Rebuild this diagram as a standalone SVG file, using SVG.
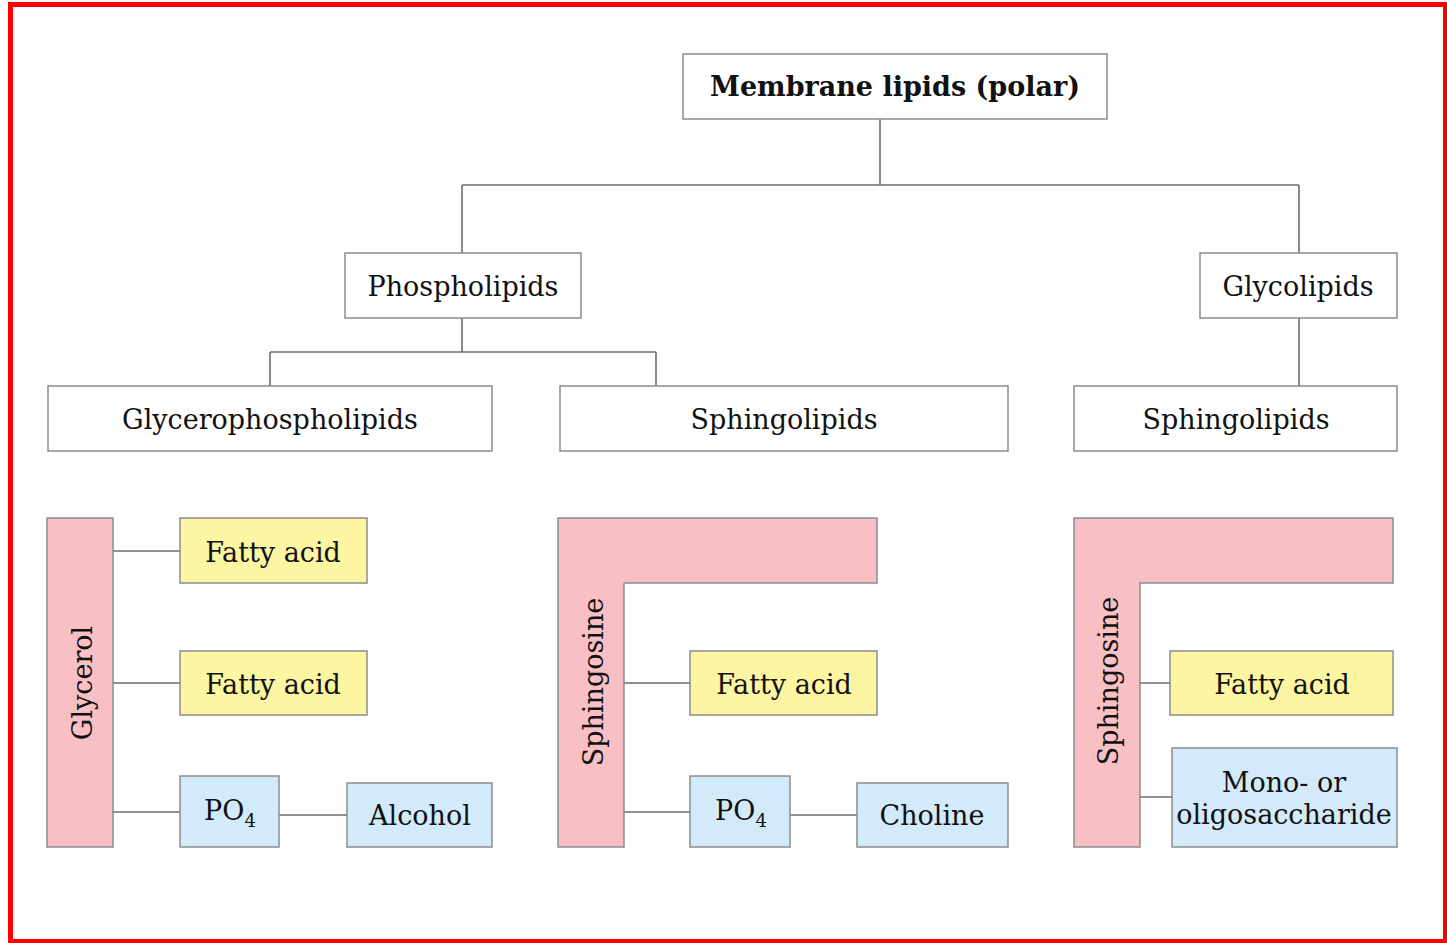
<svg xmlns="http://www.w3.org/2000/svg" width="1447" height="943" viewBox="0 0 1447 943">
<style>
.box{fill:#ffffff;stroke:#8c8c8c;stroke-width:1.5}
.fa{fill:#fcf5a2;stroke:#8c8c8c;stroke-width:1.5}
.bl{fill:#d3eafa;stroke:#8c8c8c;stroke-width:1.5}
.pk{fill:#f8bfc4;stroke:#8c8c8c;stroke-width:1.5}
.ln{fill:none;stroke:#6e6e6e;stroke-width:1.6}
text{font-family:"DejaVu Serif","Liberation Serif",serif;font-size:27px;fill:#111;text-anchor:middle}
.b{font-weight:bold}
</style>
<rect x="0" y="0" width="1447" height="943" fill="#ffffff"/>
<rect x="10.5" y="4.5" width="1435" height="937" fill="none" stroke="#ff0000" stroke-width="5"/>
<g id="connectors">
<path class="ln" d="M880,119 V185 M462,185 H1299 M462,185 V253 M1299,185 V253"/>
<path class="ln" d="M462,318 V352 M270,352 H656 M270,352 V386 M656,352 V386"/>
<path class="ln" d="M1299,318 V386"/>
<path class="ln" d="M113,551 H180 M113,683 H180 M113,812 H180 M279,815 H347"/>
<path class="ln" d="M624,683 H690 M624,812 H690 M790,815 H857"/>
<path class="ln" d="M1140,683 H1170 M1140,797 H1172"/>
</g>
<g id="membrane"><rect class="box" x="683" y="54" width="424" height="65"/><text class="b" x="895" y="96">Membrane lipids (polar)</text></g>
<g id="phospholipids"><rect class="box" x="345" y="253" width="236" height="65"/><text x="463" y="296">Phospholipids</text></g>
<g id="glycolipids"><rect class="box" x="1200" y="253" width="197" height="65"/><text x="1298" y="296">Glycolipids</text></g>
<g id="glycerophospholipids"><rect class="box" x="48" y="386" width="444" height="65"/><text x="270" y="429">Glycerophospholipids</text></g>
<g id="sphingolipids1"><rect class="box" x="560" y="386" width="448" height="65"/><text x="784" y="429">Sphingolipids</text></g>
<g id="sphingolipids2"><rect class="box" x="1074" y="386" width="323" height="65"/><text x="1236" y="429">Sphingolipids</text></g>
<g id="glycerol"><rect class="pk" x="47" y="518" width="66" height="329"/><text transform="translate(92,683) rotate(-90)">Glycerol</text></g>
<g id="fa1"><rect class="fa" x="180" y="518" width="187" height="65"/><text x="273" y="562">Fatty acid</text></g>
<g id="fa2"><rect class="fa" x="180" y="651" width="187" height="64"/><text x="273" y="694">Fatty acid</text></g>
<g id="po4a"><rect class="bl" x="180" y="776" width="99" height="71"/><text x="230" y="820">PO<tspan font-size="18" dy="7">4</tspan></text></g>
<g id="alcohol"><rect class="bl" x="347" y="783" width="145" height="64"/><text x="420" y="825">Alcohol</text></g>
<g id="sphingosine1"><path class="pk" d="M558,518 H877 V583 H624 V847 H558 Z"/><text transform="translate(603,682) rotate(-90)">Sphingosine</text></g>
<g id="fa3"><rect class="fa" x="690" y="651" width="187" height="64"/><text x="784" y="694">Fatty acid</text></g>
<g id="po4b"><rect class="bl" x="690" y="776" width="100" height="71"/><text x="741" y="820">PO<tspan font-size="18" dy="7">4</tspan></text></g>
<g id="choline"><rect class="bl" x="857" y="783" width="151" height="64"/><text x="932" y="825">Choline</text></g>
<g id="sphingosine2"><path class="pk" d="M1074,518 H1393 V583 H1140 V847 H1074 Z"/><text transform="translate(1118,681) rotate(-90)">Sphingosine</text></g>
<g id="fa4"><rect class="fa" x="1170" y="651" width="223" height="64"/><text x="1282" y="694">Fatty acid</text></g>
<g id="saccharide"><rect class="bl" x="1172" y="748" width="225" height="99"/><text x="1284" y="792">Mono- or</text><text x="1284" y="824">oligosaccharide</text></g>
</svg>
